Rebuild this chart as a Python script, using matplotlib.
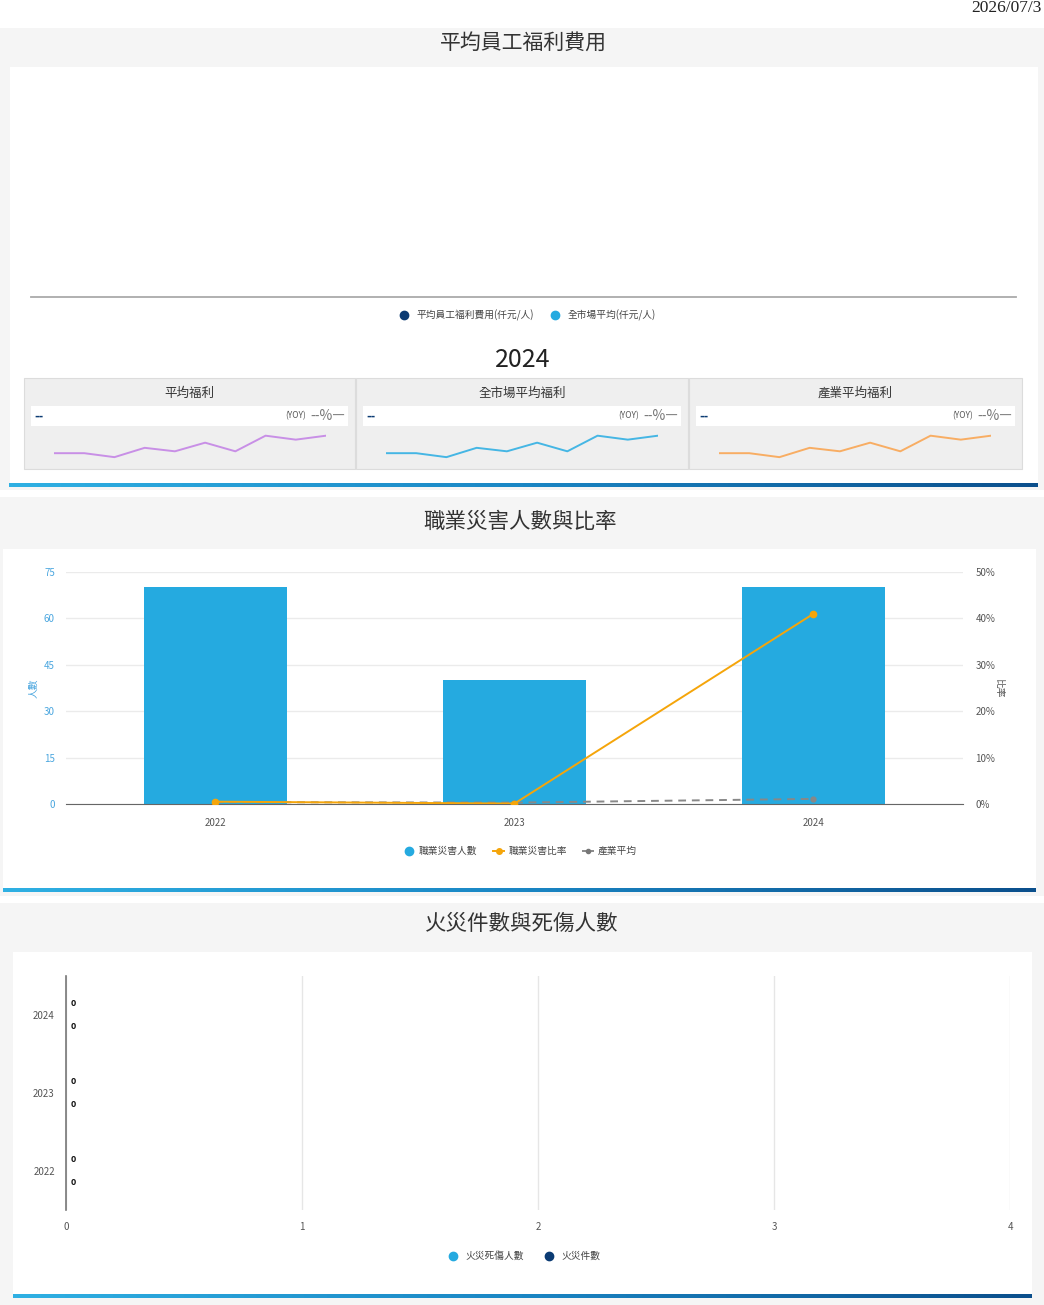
import numpy as np
import matplotlib
matplotlib.use("Agg")
import matplotlib.pyplot as plt
from matplotlib.patches import Rectangle
from matplotlib.lines import Line2D
from matplotlib.colors import LinearSegmentedColormap
from matplotlib.ticker import FuncFormatter

plt.rcParams['font.family'] = ['Noto Sans CJK TC', 'DejaVu Sans']

W, H = 1044, 1305

# ---- data ----
report_date = "2026/07/3"
welfare_year = "2024"
card_titles = ["平均福利", "全市場平均福利", "產業平均福利"]
card_colors = ["#c88fe6", "#45b6e4", "#f8ad63"]
spark_values = [6.7, 6.7, 3.3, 11.3, 8.3, 15.7, 8.3, 21.7, 18.3, 21.7]

years = ["2022", "2023", "2024"]
injury_counts = [70, 40, 70]
injury_rate = [0.5, 0.1, 41.0]
industry_rate = [0.4, 0.3, 1.1]

fire_cases = [0, 0, 0]
fire_casualties = [0, 0, 0]

NAVY = "#0b3b73"
LBLUE = "#25aae0"
ORANGE = "#f5a50a"

fig = plt.figure(figsize=(W / 100, H / 100), dpi=100)
fig.patch.set_facecolor("white")

bg = fig.add_axes([0, 0, 1, 1])
bg.set_xlim(0, W)
bg.set_ylim(H, 0)
bg.axis('off')


def px_axes(x0, y0, x1, y1):
    a = fig.add_axes([x0 / W, 1 - y1 / H, (x1 - x0) / W, (y1 - y0) / H])
    a.set_facecolor("none")
    return a


def rect(x0, y0, x1, y1, color, ec="none", z=0):
    bg.add_patch(Rectangle((x0, y0), x1 - x0, y1 - y0, facecolor=color, edgecolor=ec, lw=0.8, zorder=z))


grad_cmap = LinearSegmentedColormap.from_list("g", ["#2fb0e3", "#1a86c4", "#0b4f8c"])


def grad_bar(x0, x1, y0, y1):
    bg.imshow(np.linspace(0, 1, 256).reshape(1, -1), cmap=grad_cmap, extent=(x0, x1, y1, y0),
              aspect='auto', zorder=2)


# date
bg.text(1042, 0.5, report_date, ha="right", va="top", fontsize=12.5, family="Liberation Serif", color="#222")

# ---- section 1 ----
rect(0, 28, W, 490, "#f5f5f5")
rect(10, 67, 1038, 486, "white", z=1)
grad_bar(9, 1038, 483, 487)
bg.text(523, 44, "平均員工福利費用", ha="center", va="center", fontsize=15, color="#333")

ax1 = px_axes(31, 80, 1016, 297)
for s in ["top", "right", "left"]:
    ax1.spines[s].set_visible(False)
ax1.spines["bottom"].set_color("#aaaaaa")
ax1.spines["bottom"].set_linewidth(1.3)
ax1.set_xticks([])
ax1.set_yticks([])
h1 = ax1.plot([], [], "o", color=NAVY, ms=6, label="平均員工福利費用(仟元/人)")[0]
h2 = ax1.plot([], [], "o", color=LBLUE, ms=6, label="全市場平均(仟元/人)")[0]
fig.legend(handles=[h1, h2], loc="center", bbox_to_anchor=(525 / W, 1 - 315 / H), ncol=2,
           frameon=False, fontsize=7, handletextpad=0.3, columnspacing=1.2, labelcolor="#444")

bg.text(523, 360, welfare_year, ha="center", va="center", fontsize=18, color="#222", zorder=3)

card_x = [(24, 355), (356, 688), (689, 1022)]
for (cx0, cx1), title, col in zip(card_x, card_titles, card_colors):
    rect(cx0, 378, cx1, 469, "#efefef", ec="#dcdcdc", z=3)
    bg.text((cx0 + cx1) / 2, 393, title, ha="center", va="center", fontsize=9, color="#333", zorder=4)
    rect(cx0 + 7, 406, cx1 - 7, 426, "white", z=4)
    bg.text(cx0 + 10, 416, "--", ha="left", va="center", fontsize=9, color=NAVY, fontweight="bold", zorder=5)
    bg.text(cx1 - 11, 416, "━", ha="right", va="center", fontsize=8, color="#888", zorder=5)
    bg.text(cx1 - 22, 416, "--%", ha="right", va="center", fontsize=10, color="#777", zorder=5)
    bg.text(cx1 - 49, 416, "(YOY)", ha="right", va="center", fontsize=6, color="#555", zorder=5)
    sp = px_axes(cx0 + 30, 433, cx0 + 302, 461)
    sp.plot(range(len(spark_values)), spark_values, color=col, lw=1.4)
    sp.set_xlim(0, len(spark_values) - 1)
    sp.set_ylim(0, 24)
    sp.axis('off')

# ---- section 2 ----
rect(0, 497, W, 896, "#f5f5f5")
rect(3, 549, 1036, 892, "white", z=1)
grad_bar(3, 1036, 888, 892)
bg.text(520, 522, "職業災害人數與比率", ha="center", va="center", fontsize=15.5, color="#333")

ax2 = px_axes(66, 572, 963, 804)
x = np.arange(len(years))
ax2.bar(x, injury_counts, width=0.48, color=LBLUE, zorder=2)
ax2.set_xlim(-0.5, 2.5)
ax2.set_ylim(0, 75)
ax2.set_yticks([0, 15, 30, 45, 60, 75])
ax2.set_xticks(x, years)
ax2.grid(axis="y", color="#ebebeb", lw=1)
ax2.set_axisbelow(True)
for s in ["top", "right", "left"]:
    ax2.spines[s].set_visible(False)
ax2.spines["bottom"].set_color("#666")
ax2.tick_params(axis="y", length=0, labelsize=7, labelcolor="#4aa6df", pad=8)
ax2.tick_params(axis="x", length=0, labelsize=7, labelcolor="#555", pad=10)
ax2.set_ylabel("人數", fontsize=7, color="#4aa6df", labelpad=4)

ax2r = ax2.twinx()
ax2r.set_ylim(0, 50)
ax2r.set_yticks([0, 10, 20, 30, 40, 50])
ax2r.yaxis.set_major_formatter(FuncFormatter(lambda v, p: f"{v:.0f}%"))
for s in ["top", "right", "left", "bottom"]:
    ax2r.spines[s].set_visible(False)
ax2r.tick_params(axis="y", length=0, labelsize=7, labelcolor="#555", pad=9)
ax2r.set_ylabel("比率", fontsize=7, color="#555", rotation=270, labelpad=6)
l1 = ax2r.plot(x, injury_rate, "-o", color=ORANGE, lw=1.4, ms=4.5, zorder=4)[0]
l2 = ax2r.plot(x, industry_rate, "--o", color="#888888", lw=1.4, ms=3.5, dashes=(4, 3), zorder=3)[0]

hb = Line2D([], [], marker="o", ls="none", color=LBLUE, ms=6)
hr = Line2D([], [], marker="o", ls="-", color=ORANGE, ms=4, lw=1.4)
hi = Line2D([], [], marker="o", ls="--", color="#777", ms=3, lw=1.2)
fig.legend([hb, hr, hi], ["職業災害人數", "職業災害比率", "產業平均"], loc="center",
           bbox_to_anchor=(520 / W, 1 - 851 / H), ncol=3, frameon=False, fontsize=7,
           handlelength=1.2, handletextpad=0.4, columnspacing=1.6, labelcolor="#444")

# ---- section 3 ----
rect(0, 903, W, H, "#f5f5f5")
rect(13, 952, 1032, 1298, "white", z=1)
grad_bar(13, 1032, 1294, 1298)
bg.text(522, 924, "火災件數與死傷人數", ha="center", va="center", fontsize=15.5, color="#333")

ax3 = px_axes(66, 976, 1010, 1210)
y = np.arange(len(years))
b_cas = ax3.barh(y - 0.15, fire_casualties, height=0.28, color=LBLUE)
b_case = ax3.barh(y + 0.15, fire_cases, height=0.28, color=NAVY)
ax3.bar_label(b_cas, padding=3, fontsize=6.5, fontweight="bold", color="#111")
ax3.bar_label(b_case, padding=3, fontsize=6.5, fontweight="bold", color="#111")
ax3.set_xlim(0, 4)
ax3.set_ylim(-0.5, 2.5)
ax3.set_xticks([0, 1, 2, 3, 4])
ax3.set_yticks(y, years)
ax3.grid(axis="x", color="#e6e6e6", lw=1)
ax3.set_axisbelow(True)
for s in ["top", "right", "bottom"]:
    ax3.spines[s].set_visible(False)
ax3.spines["left"].set_color("#777")
ax3.spines["left"].set_linewidth(1.2)
ax3.tick_params(axis="both", length=0, labelsize=7, labelcolor="#555")
ax3.tick_params(axis="x", pad=9)
ax3.tick_params(axis="y", pad=8)

hc = Line2D([], [], marker="o", ls="none", color=LBLUE, ms=6)
hn = Line2D([], [], marker="o", ls="none", color=NAVY, ms=6)
fig.legend([hc, hn], ["火災死傷人數", "火災件數"], loc="center",
           bbox_to_anchor=(522 / W, 1 - 1256 / H), ncol=2, frameon=False, fontsize=7,
           handletextpad=0.3, columnspacing=1.6, labelcolor="#444")

bg.set_xlim(0, W)
bg.set_ylim(H, 0)
fig.savefig("out.png", dpi=100)
